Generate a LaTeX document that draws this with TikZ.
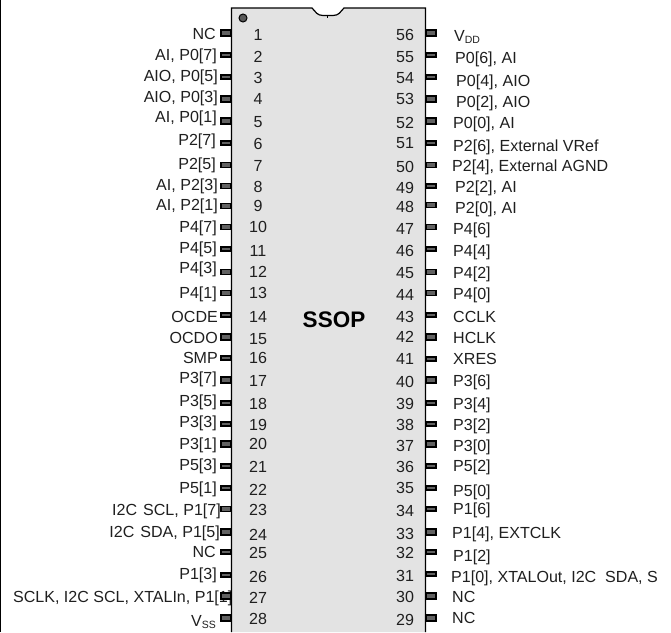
\documentclass[tikz,border=0pt]{standalone}
\usepackage{fontspec}
\setsansfont{Liberation Sans}
\newcommand{\subtext}[1]{\raisebox{-2pt}{\fontsize{10.5}{10.5}\selectfont #1}}
\begin{document}
\begin{tikzpicture}[
        x=1pt, y=-1pt,
        font=\sffamily\fontsize{16.05}{18}\selectfont,
        pinbox/.style = {
            draw, fill=black!62, line width=1.3pt, inner sep=0pt,
            minimum width=10pt, minimum height=#1
        },
        pinnum/.style = {inner sep=0pt, text height=11.5pt, text depth=0pt, text=black!88},
        leftlbl/.style = {pinnum, anchor=east},
        rightlbl/.style = {pinnum, anchor=west}
    ]
        \useasboundingbox (0,0) rectangle (671,632);
        \draw[line width=1.6pt] (0.6,0) -- (0.6,632);

        % package body
        \path[fill=black!11, draw, line width=1.2pt] (231.5,632) -- (231.5,8) -- (312,8)
            .. controls (316,12) and (317,15.5) .. (323,15.5) -- (333,15.5)
            .. controls (339,15.5) and (340,12) .. (344,8)
            -- (425.5,8) -- (425.5,632);
        \draw[line width=1pt] (327,15.5) -- (327,18);
        \node[draw, circle, fill=black!65, line width=1pt, minimum size=8pt, inner sep=0pt] (dot) at (243,18) {};
        \node[font=\sffamily\bfseries\fontsize{22.5}{24}\selectfont, inner sep=0pt] (title) at (334,320) {SSOP};

        % left labels
        \node[leftlbl] (L1) at (216,34) {NC};
        \node[leftlbl] (L2) at (217,55) {AI, P0[7]};
        \node[leftlbl] (L3) at (218,76) {AIO, P0[5]};
        \node[leftlbl] (L4) at (218,97) {AIO, P0[3]};
        \node[leftlbl] (L5) at (217,117) {AI, P0[1]};
        \node[leftlbl] (L6) at (216,140) {P2[7]};
        \node[leftlbl] (L7) at (216,164) {P2[5]};
        \node[leftlbl] (L8) at (218,185) {AI, P2[3]};
        \node[leftlbl] (L9) at (218,205) {AI, P2[1]};
        \node[leftlbl] (L10) at (217,227) {P4[7]};
        \node[leftlbl] (L11) at (217,248) {P4[5]};
        \node[leftlbl] (L12) at (217,268) {P4[3]};
        \node[leftlbl] (L13) at (217,293) {P4[1]};
        \node[leftlbl] (L14) at (218,317) {OCDE};
        \node[leftlbl] (L15) at (218,338) {OCDO};
        \node[leftlbl] (L16) at (218,358) {SMP};
        \node[leftlbl] (L17) at (217,378) {P3[7]};
        \node[leftlbl] (L18) at (217,401) {P3[5]};
        \node[leftlbl] (L19) at (217,422) {P3[3]};
        \node[leftlbl] (L20) at (217,444) {P3[1]};
        \node[leftlbl] (L21) at (217,465) {P5[3]};
        \node[leftlbl] (L22) at (217,488) {P5[1]};
        \node[leftlbl] (L23) at (221,510) {I2C\ \hspace{1.5pt}SCL, P1[7]};
        \node[leftlbl] (L24) at (220,532) {I2C\ \hspace{1.5pt}SDA, P1[5]};
        \node[leftlbl] (L25) at (216,552) {NC};
        \node[leftlbl] (L26) at (217,574) {P1[3]};
        \node[leftlbl] (L27) at (232.5,597) {SCLK, I2C SCL, XTALIn, P1[1]};
        \node[leftlbl] (L28) at (216,621) {V\subtext{SS}};

        % right labels
        \node[rightlbl] (L56) at (454,36) {V\subtext{DD}};
        \node[rightlbl] (L55) at (455,58) {P0[6], AI};
        \node[rightlbl] (L54) at (456,81) {P0[4], AIO};
        \node[rightlbl] (L53) at (456,102) {P0[2], AIO};
        \node[rightlbl] (L52) at (453,123) {P0[0], AI};
        \node[rightlbl] (L51) at (453,146) {P2[6], External VRef};
        \node[rightlbl] (L50) at (452,166) {P2[4], External AGND};
        \node[rightlbl] (L49) at (455,187) {P2[2], AI};
        \node[rightlbl] (L48) at (455,208) {P2[0], AI};
        \node[rightlbl] (L47) at (453,229) {P4[6]};
        \node[rightlbl] (L46) at (453,251) {P4[4]};
        \node[rightlbl] (L45) at (453,273) {P4[2]};
        \node[rightlbl] (L44) at (453,294) {P4[0]};
        \node[rightlbl] (L43) at (453,317) {CCLK};
        \node[rightlbl] (L42) at (453,338) {HCLK};
        \node[rightlbl] (L41) at (453,359) {XRES};
        \node[rightlbl] (L40) at (453,381) {P3[6]};
        \node[rightlbl] (L39) at (453,404) {P3[4]};
        \node[rightlbl] (L38) at (453,425) {P3[2]};
        \node[rightlbl] (L37) at (453,446) {P3[0]};
        \node[rightlbl] (L36) at (453,466) {P5[2]};
        \node[rightlbl] (L35) at (453,491) {P5[0]};
        \node[rightlbl] (L34) at (453,509) {P1[6]};
        \node[rightlbl] (L33) at (452,533) {P1[4], EXTCLK};
        \node[rightlbl] (L32) at (453,556) {P1[2]};
        \node[rightlbl] (L31) at (451,577) {P1[0], XTALOut, I2C\ \ SDA, S};
        \node[rightlbl] (L30) at (452,597) {NC};
        \node[rightlbl] (L29) at (452,618) {NC};

        % left pins: number / pin y / pin height / number y
        \foreach \n/\py/\ph/\ny in {1/33/6/35, 2/55/4/57, 3/77/4/78, 4/99/6/99, 5/121/6/122, 6/143/4/144,
            7/165/5/166, 8/186/5/187, 9/206/5/206, 10/227/5/227, 11/249/4/251, 12/272/5/272, 13/293/5/293,
            14/315/4/317, 15/337/6/339, 16/358/4/358, 17/380/6/381, 18/403/4/404, 19/424/4/425, 20/444/6/444,
            21/466/4/467, 22/488/4/490, 23/509/5/510, 24/532/6/535, 25/552/4/553, 26/575/4/577, 27/596/6/598,
            28/618/6/619}
        {
            \node[pinbox=\ph pt] (P\n) at (226,\py) {};
            \node[pinnum] (N\n) at (258,\ny) {\n};
        }

        % right pins
        \foreach \n/\py/\ph/\ny in {56/33/6/35, 55/55/4/57, 54/77/4/78, 53/99/6/99, 52/121/6/123, 51/143/4/143,
            50/165/5/167, 49/186/4/188, 48/205/5/207, 47/227/5/229, 46/249/4/251, 45/272/5/273, 44/293/5/295,
            43/315/4/317, 42/337/6/337, 41/359/4/359, 40/380/6/382, 39/403/4/404, 38/424/4/425, 37/444/6/446,
            36/466/4/467, 35/488/4/488, 34/509/4/511, 33/532/6/534, 32/552/4/553, 31/574/4/576, 30/596/6/597,
            29/618/6/620}
        {
            \node[pinbox=\ph pt] (P\n) at (431,\py) {};
            \node[pinnum] (N\n) at (405,\ny) {\n};
        }
    \end{tikzpicture}
\end{document}
